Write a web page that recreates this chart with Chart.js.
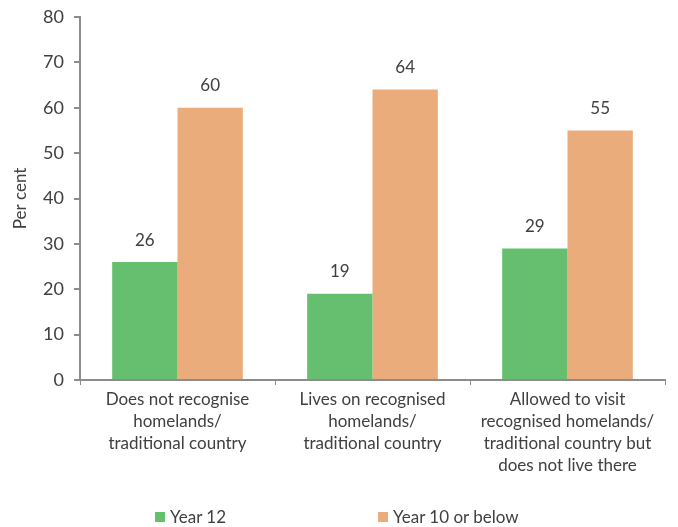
<!DOCTYPE html>
<html>
<head>
<meta charset="utf-8">
<script src="https://cdn.jsdelivr.net/npm/chart.js@4/dist/chart.umd.min.js"></script>
<style>
  html, body { margin: 0; padding: 0; background: #fff; }
  #wrap { position: relative; width: 678px; height: 527px; }
  #legend { position: absolute; top: 506px; left: 0; width: 678px; height: 20px; font-family: Lato, sans-serif; font-size: 17px; color: #404040; }
  .item { position: absolute; top: 0; display: flex; align-items: center; white-space: nowrap; }
  .box { width: 10px; height: 10px; margin-right: 5px; }
</style>
</head>
<body>
<div id="wrap">
  <canvas id="c" width="678" height="527"></canvas>
  <div id="legend"></div>
</div>
<script>
const categories = [
  ["Does not recognise", "homelands/", "traditional country"],
  ["Lives on recognised", "homelands/", "traditional country"],
  ["Allowed to visit", "recognised homelands/", "traditional country but", "does not live there"]
];
const seriesNames = ["Year 12", "Year 10 or below"];
const year12 = [26, 19, 29];
const year10OrBelow = [60, 64, 55];
const yTicks = [0, 10, 20, 30, 40, 50, 60, 70, 80];

const colors = ["#66bf6e", "#ebac7c"];
const textColor = "#404040";
const axisColor = "#8c8c8c";

const valueLabels = {
  id: "valueLabels",
  afterDatasetsDraw(chart) {
    const ctx = chart.ctx;
    ctx.save();
    ctx.font = "17px Lato, sans-serif";
    ctx.fillStyle = textColor;
    ctx.textAlign = "center";
    ctx.textBaseline = "middle";
    chart.data.datasets.forEach((ds, i) => {
      chart.getDatasetMeta(i).data.forEach((bar, j) => {
        ctx.fillText(String(ds.data[j]), bar.x, bar.y - 22);
      });
    });
    ctx.restore();
  }
};

new Chart(document.getElementById("c"), {
  type: "bar",
  data: {
    labels: categories,
    datasets: [
      { label: seriesNames[0], data: year12, backgroundColor: colors[0] },
      { label: seriesNames[1], data: year10OrBelow, backgroundColor: colors[1] }
    ]
  },
  options: {
    responsive: false,
    animation: false,
    devicePixelRatio: 1,
    layout: { padding: { top: 17, right: 13, left: 0, bottom: 0 } },
    datasets: { bar: { categoryPercentage: 0.67, barPercentage: 1.0 } },
    plugins: { legend: { display: false }, tooltip: { enabled: false } },
    scales: {
      x: {
        offset: true,
        grid: { offset: true, drawOnChartArea: false, drawTicks: true, tickLength: 5, color: axisColor, lineWidth: 1 },
        border: { color: axisColor, width: 2 },
        ticks: { color: textColor, font: { family: "Lato, sans-serif", size: 17, lineHeight: 1.3 }, maxRotation: 0, autoSkip: false, padding: 3 },
        afterFit(s) { s.height = 147; }
      },
      y: {
        min: 0, max: 80,
        afterBuildTicks(s) { s.ticks = yTicks.map(v => ({ value: v })); },
        grid: { drawOnChartArea: false, drawTicks: true, tickLength: 6, color: axisColor, lineWidth: 2 },
        border: { color: axisColor, width: 2 },
        ticks: { color: textColor, font: { family: "Lato, sans-serif", size: 18 }, padding: 10 },
        title: { display: true, text: "Per cent", color: textColor, font: { family: "Lato, sans-serif", size: 17 }, padding: { top: 10, bottom: 4 } },
        afterFit(s) { s.width = 80; s.paddingTop = 0; s.paddingBottom = 0; }
      }
    }
  },
  plugins: [valueLabels]
});

const legend = document.getElementById("legend");
const legendX = [155, 378];
seriesNames.forEach((name, i) => {
  const d = document.createElement("div");
  d.className = "item";
  d.style.left = legendX[i] + "px";
  d.innerHTML = '<span class="box" style="background:' + colors[i] + '"></span><span>' + name + '</span>';
  legend.appendChild(d);
});
</script>
</body>
</html>
